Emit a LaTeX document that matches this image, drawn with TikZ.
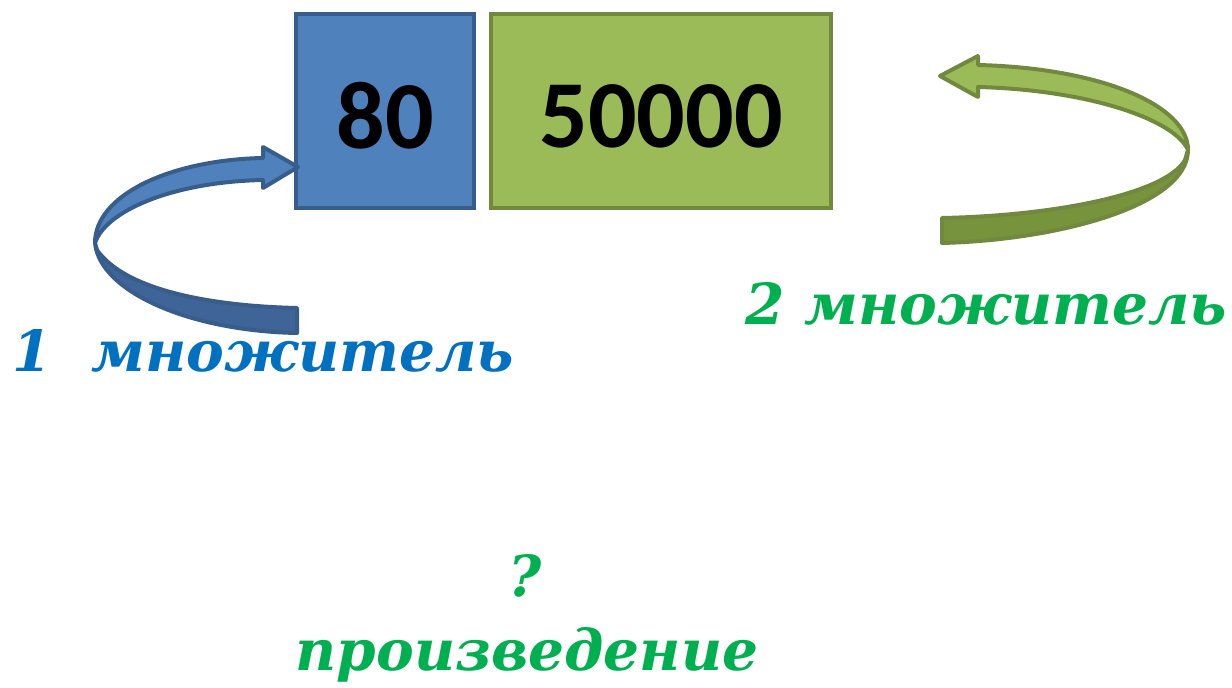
\documentclass[tikz,border=0pt]{standalone}
\usepackage{fontspec}
\newfontfamily\numfont{Carlito}
\newfontfamily\lblfont{DejaVu Serif}
\definecolor{bfill}{HTML}{4F81BD}
\definecolor{bline}{HTML}{385D8A}
\definecolor{bdark}{HTML}{3F6598}
\definecolor{gfill}{HTML}{9BBB59}
\definecolor{gline}{HTML}{71893F}
\definecolor{gdark}{HTML}{77933C}
\definecolor{tblue}{HTML}{0070C0}
\definecolor{tgreen}{HTML}{00B050}
\begin{document}
\begin{tikzpicture}[x=0.5pt,y=-0.5pt,
  numbox/.style={draw, line width=2pt, inner sep=0pt},
  numtxt/.style={inner sep=0pt, font=\numfont\bfseries\fontsize{48}{50}\selectfont, text=black},
  lbl/.style={inner sep=0pt, font=\lblfont\bfseries\itshape\fontsize{28.3}{32}\selectfont},
  ribbon/.style={line width=2pt, line join=round}]
\useasboundingbox (0,0) rectangle (1232,688);
% boxes
\node[numbox, fill=bfill, draw=bline, minimum width=89pt, minimum height=97pt] (b80) at (385,111) {};
\node[numbox, fill=gfill, draw=gline, minimum width=170pt, minimum height=97pt] (b50) at (661,111) {};
\node[numtxt] (t80) at (385,116) {80};
\node[numtxt] (t50) at (661,116) {50000};
% blue arrow
\draw[ribbon, fill=bdark, draw=bline] (95,243) .. controls (100,292) and (190,331) .. (297,333) -- (297,308) .. controls (210,306) and (125,290) .. (97,250) -- cycle;
\draw[ribbon, fill=bfill, draw=bline] (298,167) -- (263,147) -- (263,158) .. controls (170,160) and (95,195) .. (95,243) .. controls (105,212) and (170,182) .. (263,180) -- (263,188) -- cycle;
% green arrow
\draw[ribbon, fill=gdark, draw=gline] (1188,150) .. controls (1188,205) and (1060,240) .. (942,243) -- (942,218) .. controls (1050,216) and (1165,195) .. (1185,160) -- cycle;
\draw[ribbon, fill=gfill, draw=gline] (940,76) -- (978,56) -- (978,65) .. controls (1100,68) and (1188,105) .. (1188,150) .. controls (1175,120) and (1090,90) .. (978,87) -- (978,97) -- cycle;
% labels
\node[lbl, text=tblue, anchor=base west] (m1) at (12,372) {1\hspace{20pt}множитель};
\node[lbl, text=tgreen, anchor=base west] (m2) at (745,325) {2 множитель};
\node[lbl, text=tgreen, anchor=base] (q) at (525,597) {?};
\node[lbl, text=tgreen, anchor=base] (pr) at (527,671) {произведение};
\end{tikzpicture}
\end{document}
